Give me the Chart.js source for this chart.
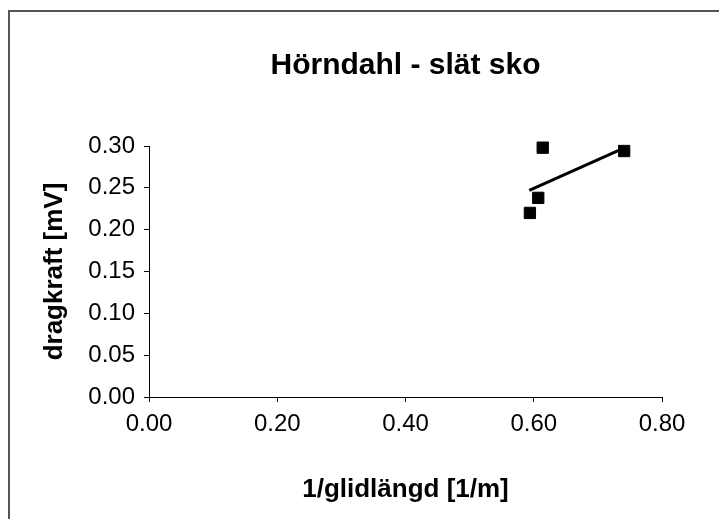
<!DOCTYPE html>
<html>
<head>
<meta charset="utf-8">
<script src="https://cdn.jsdelivr.net/npm/chart.js@4/dist/chart.umd.min.js"></script>
<style>
    html, body { margin: 0; padding: 0; background: #fff; overflow: hidden; }
    #wrap { position: relative; width: 719px; height: 519px; }
    #frame {
        position: absolute; left: 8px; top: 10px; width: 800px; height: 600px;
        border-left: 2px solid #555; border-top: 2px solid #555;
    }
    canvas { position: absolute; left: 0; top: 0; }
</style>
</head>
<body>
<div id="wrap">
    <div id="frame"></div>
    <canvas id="chart" width="719" height="519"></canvas>
</div>
<script>
// measured points (1/glidlängd vs dragkraft)
const xVals = [0.614, 0.741, 0.607, 0.594];
const yVals = [0.298, 0.294, 0.238, 0.220];

// linear trend line, end points
const trendX = [0.593, 0.736];
const trendY = [0.247, 0.296];

// axis ranges
const xAxis = [0, 0.8, 0.2];   // min, max, step
const yAxis = [0, 0.3, 0.05];

const chartTitle = 'Hörndahl - slät sko';
const xTitle = '1/glidlängd [1/m]';
const yTitle = 'dragkraft [mV]';

Chart.defaults.font.family = 'Arial, "Liberation Sans", sans-serif';
Chart.defaults.color = '#000';

const points = xVals.map((x, i) => ({ x: x, y: yVals[i] }));
const trend = trendX.map((x, i) => ({ x: x, y: trendY[i] }));

const ctx = document.getElementById('chart').getContext('2d');
new Chart(ctx, {
    type: 'scatter',
    data: {
        datasets: [{
            label: 'dragkraft',
            data: points,
            clip: false,
            pointStyle: 'rect',
            pointRadius: 8,
            pointBorderWidth: 1,
            backgroundColor: '#000',
            borderColor: '#000'
        }, {
            label: 'trend',
            data: trend,
            clip: false,
            showLine: true,
            pointRadius: 0,
            borderColor: '#000',
            borderWidth: 3
        }]
    },
    options: {
        responsive: false,
        animation: false,
        layout: {
            padding: { left: 0, right: 57, top: 0, bottom: 0 }
        },
        plugins: {
            legend: { display: false },
            tooltip: { enabled: false },
            title: {
                display: true,
                text: chartTitle,
                fullSize: false,
                font: { size: 30, weight: 'bold' },
                padding: { top: 48, bottom: 62 }
            }
        },
        scales: {
            x: {
                type: 'linear',
                min: xAxis[0],
                max: xAxis[1],
                afterFit: function (scale) { scale.height = 122; },
                border: { color: '#000', width: 1 },
                grid: { drawOnChartArea: false, tickLength: 5, color: '#000' },
                ticks: {
                    stepSize: xAxis[2],
                    padding: 8,
                    font: { size: 24 },
                    callback: v => v.toFixed(2)
                },
                title: {
                    display: true,
                    text: xTitle,
                    font: { size: 26, weight: 'bold' },
                    padding: { top: 0, bottom: 14 }
                }
            },
            y: {
                type: 'linear',
                min: yAxis[0],
                max: yAxis[1],
                afterFit: function (scale) { scale.width = 149; },
                border: { color: '#000', width: 1 },
                grid: { drawOnChartArea: false, tickLength: 5, color: '#000' },
                ticks: {
                    stepSize: yAxis[2],
                    padding: 9,
                    font: { size: 24 },
                    callback: v => v.toFixed(2)
                },
                title: {
                    display: true,
                    text: yTitle,
                    font: { size: 26, weight: 'bold' },
                    padding: { top: 39, bottom: 0 }
                }
            }
        }
    }
});
</script>
</body>
</html>
